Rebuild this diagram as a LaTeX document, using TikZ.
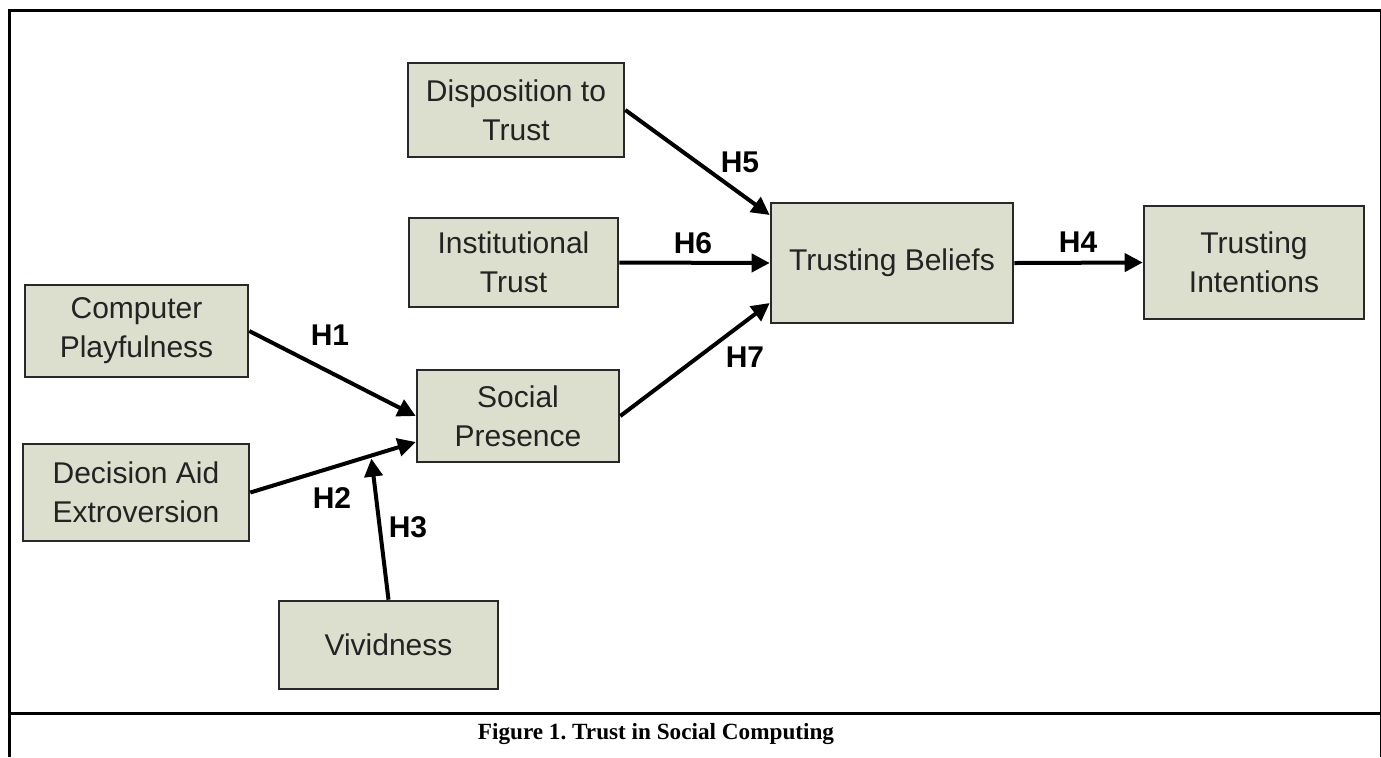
\documentclass[tikz,border=0pt]{standalone}
\usepackage{fontspec}
\setmainfont{Liberation Sans}
\newfontfamily\capfont{Liberation Serif}
\usetikzlibrary{calc, positioning}
\usetikzlibrary{arrows.meta}

\definecolor{boxfill}{RGB}{220,223,206}
\definecolor{boxline}{RGB}{40,40,40}
\definecolor{boxtext}{RGB}{35,35,35}

\begin{document}
\begin{tikzpicture}[x=0.5pt, y=0.5pt,
  construct/.style={draw=boxline, fill=boxfill, line width=1.3pt, align=center,
    inner sep=0pt, text=boxtext, font=\fontsize{15}{19.5}\selectfont},
  hyp/.style={-{Triangle[length=9pt,width=9pt]}, line width=2pt},
  hlab/.style={font=\fontsize{15}{18}\selectfont\bfseries}]
\useasboundingbox (0,0) rectangle (1381,-757);
% outer frame and caption rule
\draw[line width=1.5pt] (9.5,-757) -- (9.5,-10.5) -- (1380.5,-10.5);
\draw[line width=1pt] (1380.5,-10.5) -- (1380.5,-757);
\draw[line width=1.5pt] (9.5,-713) -- (1381,-713);
\node[anchor=base, font=\capfont\bfseries\fontsize{11.6}{14}\selectfont] (cap) at (656,-739) {Figure 1.\ Trust in Social Computing};
% constructs
\node[construct, minimum width=108pt, minimum height=47pt] (disp) at (516,-110) {Disposition to\\Trust};
\node[construct, minimum width=104.5pt, minimum height=44.5pt] (inst) at (513.5,-262.5) {Institutional\\Trust};
\node[construct, minimum width=121pt, minimum height=60pt] (tb) at (892,-263) {Trusting Beliefs};
\node[construct, minimum width=110pt, minimum height=56.5pt] (ti) at (1254,-262.5) {Trusting\\Intentions};
\node[construct, minimum width=111.5pt, minimum height=46pt] (cp) at (136.5,-331) {Computer\\Playfulness};
\node[construct, minimum width=101pt, minimum height=46pt] (sp) at (518,-416) {Social\\Presence};
\node[construct, minimum width=113pt, minimum height=48.5pt] (dae) at (136,-492.5) {Decision Aid\\Extroversion};
\node[construct, minimum width=109.5pt, minimum height=44pt] (viv) at (388.5,-645) {Vividness};
% hypotheses
\draw[hyp] (cp.east) -- (sp.west);
\draw[hyp] (dae.east) -- coordinate[pos=0.73] (meet) ($(sp.west)+(0,-26)$);
\draw[hyp, shorten >=1.5pt] (viv.north) -- (meet);
\draw[hyp] (disp.east) -- ($(tb.west)+(0,48)$);
\draw[hyp] (inst.east) -- (tb.west);
\draw[hyp] (sp.east) -- ($(tb.west)+(0,-40)$);
\draw[hyp] (tb.east) -- (ti.west);
\node[hlab] (h1) at (330,-335) {H1};
\node[hlab] (h2) at (332,-498) {H2};
\node[hlab] (h3) at (408,-527) {H3};
\node[hlab] (h4) at (1078,-242) {H4};
\node[hlab] (h5) at (740,-162) {H5};
\node[hlab] (h6) at (693,-243) {H6};
\node[hlab] (h7) at (745,-357) {H7};
\end{tikzpicture}
\end{document}
